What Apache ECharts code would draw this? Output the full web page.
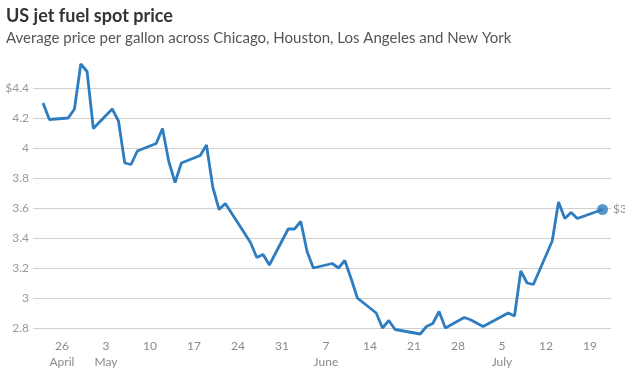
<!DOCTYPE html>
<html>
<head>
<meta charset="utf-8">
<script src="https://cdn.jsdelivr.net/npm/echarts@6/dist/echarts.min.js"></script>
<style>
  html, body { margin: 0; padding: 0; background: #fff; }
  #main { width: 625px; height: 375px; }
</style>
</head>
<body>
<div id="main"></div>
<script>
// daily spot prices, $ per gallon (business days only)
const dates = [
  "2026-04-23", "2026-04-24", "2026-04-27", "2026-04-28", "2026-04-29", "2026-04-30", "2026-05-01",
  "2026-05-04", "2026-05-05", "2026-05-06", "2026-05-07", "2026-05-08",
  "2026-05-11", "2026-05-12", "2026-05-13", "2026-05-14", "2026-05-15",
  "2026-05-18", "2026-05-19", "2026-05-20", "2026-05-21", "2026-05-22",
  "2026-05-26", "2026-05-27", "2026-05-28", "2026-05-29",
  "2026-06-01", "2026-06-02", "2026-06-03", "2026-06-04", "2026-06-05",
  "2026-06-08", "2026-06-09", "2026-06-10", "2026-06-11", "2026-06-12",
  "2026-06-15", "2026-06-16", "2026-06-17", "2026-06-18",
  "2026-06-22", "2026-06-23", "2026-06-24", "2026-06-25", "2026-06-26",
  "2026-06-29", "2026-06-30", "2026-07-02",
  "2026-07-06", "2026-07-07", "2026-07-08", "2026-07-09", "2026-07-10",
  "2026-07-13", "2026-07-14", "2026-07-15", "2026-07-16", "2026-07-17",
  "2026-07-21"
];
const prices = [
  4.30, 4.19, 4.20, 4.26, 4.56, 4.51, 4.13,
  4.26, 4.18, 3.90, 3.89, 3.98,
  4.03, 4.13, 3.91, 3.77, 3.90,
  3.95, 4.02, 3.74, 3.59, 3.63,
  3.37, 3.27, 3.29, 3.22,
  3.46, 3.46, 3.51, 3.31, 3.20,
  3.23, 3.20, 3.25, 3.13, 3.00,
  2.90, 2.80, 2.85, 2.79,
  2.76, 2.81, 2.83, 2.91, 2.80,
  2.87, 2.855, 2.81,
  2.90, 2.88, 3.18, 3.10, 3.09,
  3.38, 3.64, 3.53, 3.57, 3.53,
  3.59
];

const xTickDates = ["2026-04-26", "2026-05-03", "2026-05-10", "2026-05-17", "2026-05-24", "2026-05-31",
  "2026-06-07", "2026-06-14", "2026-06-21", "2026-06-28", "2026-07-05", "2026-07-12", "2026-07-19"];
const xTickLabels = ["26\nApril", "3\nMay", "10", "17", "24", "31",
  "7\nJune", "14", "21", "28", "5\nJuly", "12", "19"];

// x positions are days counted from the first tick date
const DAY = 24 * 3600 * 1000;
const origin = new Date(xTickDates[0]).getTime();
const dayOf = d => Math.round((new Date(d).getTime() - origin) / DAY);
const xTicks = xTickDates.map(dayOf);
const lineData = dates.map((d, i) => [dayOf(d), prices[i]]);
const last = lineData[lineData.length - 1];

const blue = "#2e7dc0";

const chart = echarts.init(document.getElementById("main"));
chart.setOption({
  animation: false,
  title: {
    text: "US jet fuel spot price",
    subtext: "Average price per gallon across Chicago, Houston, Los Angeles and New York",
    left: 1,
    top: 2,
    itemGap: 6,
    textStyle: { fontFamily: "Lato", fontSize: 18, fontWeight: "bold", color: "#333" },
    subtextStyle: { fontFamily: "Lato", fontSize: 15, color: "#555" }
  },
  grid: { left: 33, right: 14, top: 88, bottom: 47 },
  xAxis: {
    type: "value",
    min: -4.6,
    max: 87.35,
    axisLine: { show: false },
    axisTick: { show: false },
    splitLine: { show: false },
    axisLabel: {
      customValues: xTicks,
      margin: 10,
      color: "#8a8a8a",
      fontFamily: "Lato",
      fontSize: 12,
      lineHeight: 16,
      formatter: v => {
        const i = xTicks.indexOf(v);
        return i >= 0 ? xTickLabels[i] : "";
      }
    }
  },
  yAxis: {
    type: "value",
    min: 2.8,
    max: 4.4,
    interval: 0.2,
    axisLine: { show: false },
    axisTick: { show: false },
    splitLine: { lineStyle: { color: "#d0d0d0", width: 1 } },
    axisLabel: {
      margin: 4,
      color: "#9a9a9a",
      fontFamily: "Lato",
      fontSize: 12,
      formatter: v => (Math.abs(v - 4.4) < 1e-9 ? "$" : "") + Number(v.toFixed(1))
    }
  },
  series: [
    {
      type: "line",
      data: lineData,
      clip: false,
      showSymbol: false,
      lineStyle: { color: blue, width: 2.8 },
      itemStyle: { color: blue }
    },
    {
      type: "scatter",
      data: [last],
      clip: false,
      symbolSize: 11,
      itemStyle: { color: blue },
      label: {
        show: true,
        position: "right",
        distance: 5,
        color: "#777",
        fontFamily: "Lato",
        fontSize: 12,
        formatter: p => "$" + p.value[1].toFixed(2)
      }
    }
  ]
});
</script>
</body>
</html>
